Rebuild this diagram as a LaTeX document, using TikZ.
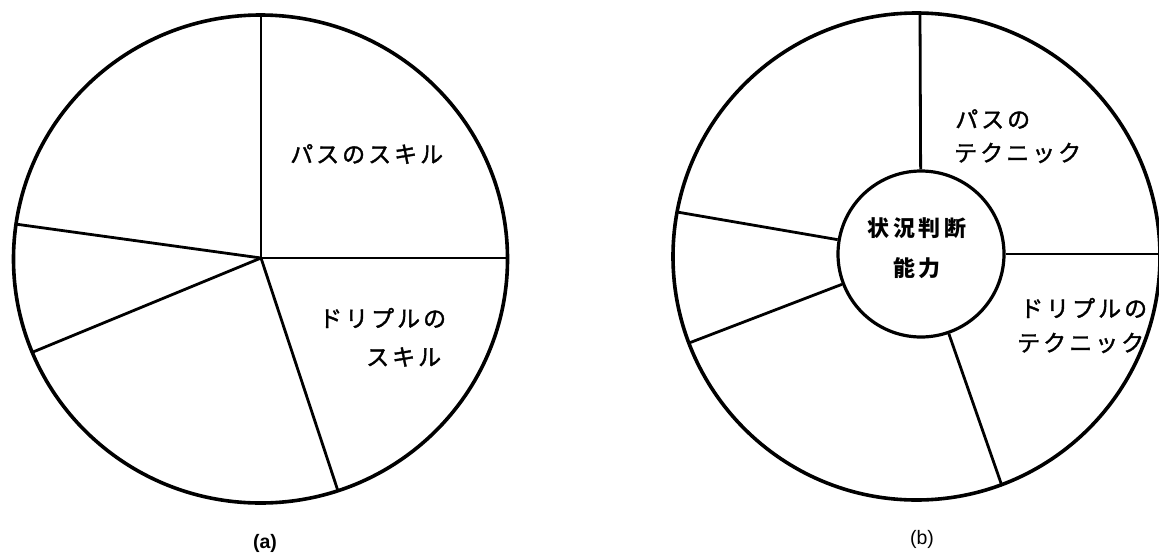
\documentclass[tikz,border=0pt]{standalone}
\usepackage{fontspec}
\setsansfont{Liberation Sans}
\newfontfamily\jpkana[LetterSpace=13,FakeBold=1.6]{Noto Sans CJK JP}
\newfontfamily\jpkanji[LetterSpace=16]{Noto Sans CJK JP}
\begin{document}
\begin{tikzpicture}[x=1pt,y=-1pt,
  rim/.style={line width=3.6pt},
  spoke/.style={line width=2.8pt},
  kana/.style={inner sep=0pt, anchor=west, font=\jpkana\fontsize{23}{23}\selectfont},
  kanji/.style={inner sep=0pt, font=\jpkanji\bfseries\fontsize{22}{22}\selectfont},
  figcap/.style={inner sep=0pt, anchor=base, font=\sffamily\fontsize{19.5}{20}\selectfont}]
\useasboundingbox (0,0) rectangle (1159,552);

% ---------- (a) ----------
\draw[rim] (260.5,259) ellipse [x radius=247, y radius=244];
\coordinate (ha) at (261,258);
\coordinate (a1) at (261,15);
\coordinate (a2) at (508,258);
\coordinate (a3) at (338,491);
\coordinate (a4) at (33,352);
\coordinate (a5) at (15,224);
\foreach \e in {a1,a2,a3,a4,a5} \draw[spoke] (ha) -- (\e);
\node[kana] (ta1) at (290,154) {パスのスキル};
\node[kana] (ta2) at (319,318) {ドリプルの};
\node[kana] (ta3) at (366,357) {スキル};
\node[figcap, font=\sffamily\bfseries\fontsize{19.5}{20}\selectfont] (capa) at (265,548) {(a)};

% ---------- (b) ----------
\draw[rim] (916.5,256.5) circle [radius=243.5];
\node[draw, circle, line width=3.2pt, minimum size=166pt, inner sep=0pt] (core) at (921,254) {};
\coordinate (b1) at (920,13);
\coordinate (b2) at (1162,254);
\coordinate (b3) at (1002,486);
\coordinate (b4) at (689,343);
\coordinate (b5) at (677,212);
\foreach \e in {b1,b2,b3,b4,b5} \draw[spoke] (core) -- (\e);
\node[kanji] (tc1) at (917,228) {状況判断};
\node[kanji] (tc2) at (917,268) {能力};
\node[kana] (tb1) at (955,119) {パスの};
\node[kana] (tb2) at (954,153) {テクニック};
\node[kana] (tb3) at (1020,308) {ドリプルの};
\node[kana] (tb4) at (1017,343) {テクニック};
\node[figcap] (capb) at (922,544) {(b)};
\end{tikzpicture}
\end{document}
